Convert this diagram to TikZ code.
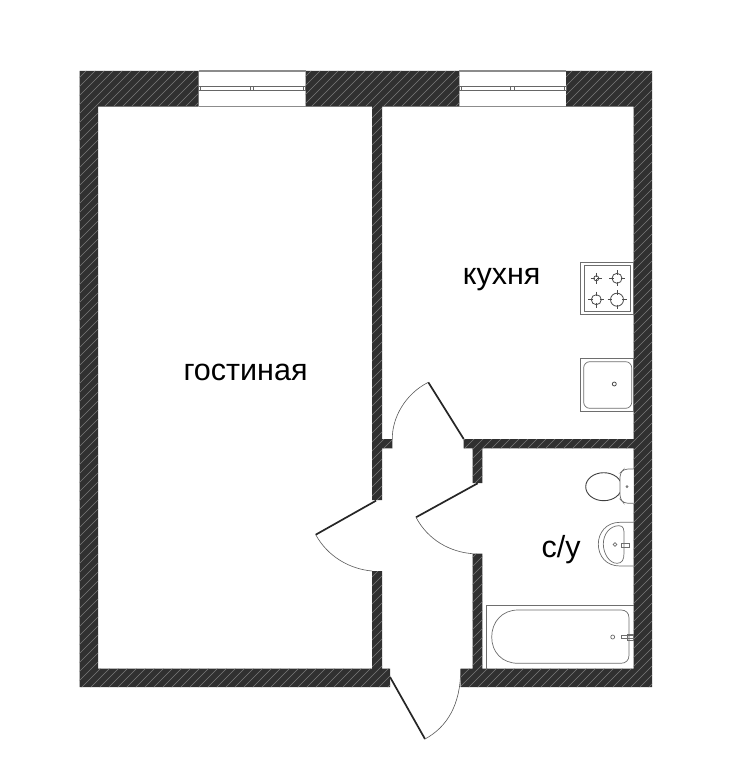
\documentclass[tikz,border=0pt]{standalone}
\usepackage{fontspec}
\setmainfont{Liberation Sans}
\definecolor{walldark}{HTML}{303030}
\definecolor{wallhatch}{HTML}{7A7A7A}
\definecolor{fixline}{HTML}{6E6E6E}
\newcommand{\wallrects}{
  (79.5,71) rectangle (198.7,106.7)
  (305.7,71) rectangle (459.3,106.7)
  (566,71) rectangle (652,106.7)
  (79.5,71) rectangle (98,687)
  (633.7,71) rectangle (652,687)
  (79.5,668.7) rectangle (390,687)
  (460.7,668.7) rectangle (652,687)
  (372,106) rectangle (382,500)
  (372,571) rectangle (382,669)
  (372,439) rectangle (392.3,448.3)
  (463.7,439) rectangle (634,448.3)
  (472.7,448) rectangle (482.3,483)
  (472.7,553.7) rectangle (482.3,669)
}
\tikzset{
  leaf/.style={line width=1.7pt,black!85},
  swing/.style={line width=0.6pt,black!65},
  fixture/.style={line width=0.7pt,fixline},
  burner/.style={line width=0.8pt,black!70},
  roomlabel/.style={font=\fontsize{30.5}{30.5}\selectfont,inner sep=0pt,anchor=base},
  sash/.style={line width=1pt,black!60}
}
\newcommand{\windowat}[2]{
  \draw[line width=1.2pt,black!45] (#1,71) -- (#2,71) (#1,106.7) -- (#2,106.7);
  \draw[sash] (#1,86.7) rectangle (#2,90.7);
  \draw[sash] (#1+2,86.7) -- (#1+2,90.7) (#2-2,86.7) -- (#2-2,90.7);
  \draw[sash] ({(#1+#2)/2-2},86.7) -- ({(#1+#2)/2-2},90.7) ({(#1+#2)/2+1.5},86.7) -- ({(#1+#2)/2+1.5},90.7);
}
\newcommand{\burnerat}[3]{
  \draw[burner] (#1,#2) circle (#3);
  \draw[burner] (#1-#3-3,#2) -- (#1-#3+1.5,#2) (#1+#3-1.5,#2) -- (#1+#3+3,#2);
  \draw[burner] (#1,#2-#3-3) -- (#1,#2-#3+1.5) (#1,#2+#3-1.5) -- (#1,#2+#3+3);
}
\begin{document}
\begin{tikzpicture}[x=1pt,y=-1pt]
  \useasboundingbox (0,0) rectangle (732,767);
  \fill[white] (0,0) rectangle (732,767);
  \fill[walldark] \wallrects;
  \begin{scope}
    \clip \wallrects;
    \foreach \k in {-700,-691,...,730} {
      \draw[wallhatch,line width=0.6pt] (\k,767) -- ++(767,-767);
    }
  \end{scope}
  \windowat{198.7}{305.7}
  \windowat{459.3}{566}

  \coordinate (d1h) at (463.7,439);
  \coordinate (d1t) at (428.3,382.3);
  \coordinate (d1e) at (392.3,439);
  \coordinate (d2h) at (376,500.7);
  \coordinate (d2t) at (315.7,534.7);
  \coordinate (d2e) at (372,571);
  \coordinate (d3h) at (477.7,483.3);
  \coordinate (d3t) at (416,517.3);
  \coordinate (d3e) at (472.7,553.7);
  \coordinate (d4h) at (390,677);
  \coordinate (d4t) at (425,739);
  \coordinate (d4e) at (460.7,669);
  \draw[leaf] (d1h) -- (d1t);
  \draw[swing] (d1t) .. controls (405,394) and (392,418) .. (d1e);
  \draw[leaf] (d2h) -- (d2t);
  \draw[swing] (d2t) .. controls (328,557) and (350,569) .. (d2e);
  \draw[leaf] (d3h) -- (d3t);
  \draw[swing] (d3t) .. controls (428,540) and (450,552) .. (d3e);
  \draw[leaf] (d4h) -- (d4t);
  \draw[swing] (d4t) .. controls (447,727) and (460.7,705) .. (d4e);

  \draw[fixture] (580.7,262.7) rectangle (633.7,314.7);
  \draw[fixture] (584.3,265.7) rectangle (630,311.7);
  \burnerat{596.3}{278.3}{2.5}
  \burnerat{617}{278.3}{5}
  \burnerat{596.3}{299.7}{5}
  \burnerat{617}{299.7}{6.5}

  \draw[fixture] (580.7,358.3) rectangle (633.7,411.7);
  \draw[fixture,rounded corners=6pt] (583.7,361.7) rectangle (631.7,408.3);
  \draw[burner] (614.3,384) circle (2);

  \draw[line width=0.9pt,black!75] (603.7,486.7) ellipse (18 and 14);
  \draw[fixture,fill=white,rounded corners=4pt] (633.7,469) -- (624,469) -- (620,473) -- (620,499) -- (624,503.3) -- (633.7,503.3);
  \draw[fixture] (627,486.7) circle (1);

  \draw[fixture] (633.7,522.3) -- (620,522.3) .. controls (606,522.3) and (598.3,533) .. (598.3,544) .. controls (598.3,556) and (606,566) .. (620,566) -- (633.7,566);
  \draw[fixture] (619,525.7) .. controls (624,525.7) and (624,530) .. (624,535) -- (624,553) .. controls (624,560) and (622,563.3) .. (617,563.3) .. controls (609,563.3) and (603.3,553) .. (603.3,544) .. controls (603.3,534) and (610,525.7) .. (619,525.7);
  \draw[fixture] (615,544.5) circle (1.8);
  \draw[fixture] (621,543) rectangle (629,547);

  \draw[fixture] (486.7,668.7) -- (486.7,605) -- (633.7,605);
  \draw[fixture] (518,610) -- (621,610) .. controls (626,610) and (629,613) .. (629,618) -- (629,655.3) .. controls (629,660) and (626,663.3) .. (621,663.3) -- (518,663.3) .. controls (502,663.3) and (491.7,652) .. (491.7,637) .. controls (491.7,622) and (502,610) .. (518,610);
  \draw[fixture] (612.7,637) circle (2);
  \draw[fixture] (621,635.5) rectangle (633.7,638.5);
  \draw[fixture] (627,634) rectangle (633,640);

  \node[roomlabel] (living) at (245.5,380.5) {гостиная};
  \node[roomlabel] (kitchen) at (501.7,284) {кухня};
  \node[roomlabel] (bath) at (561,557) {с/у};
\end{tikzpicture}
\end{document}
